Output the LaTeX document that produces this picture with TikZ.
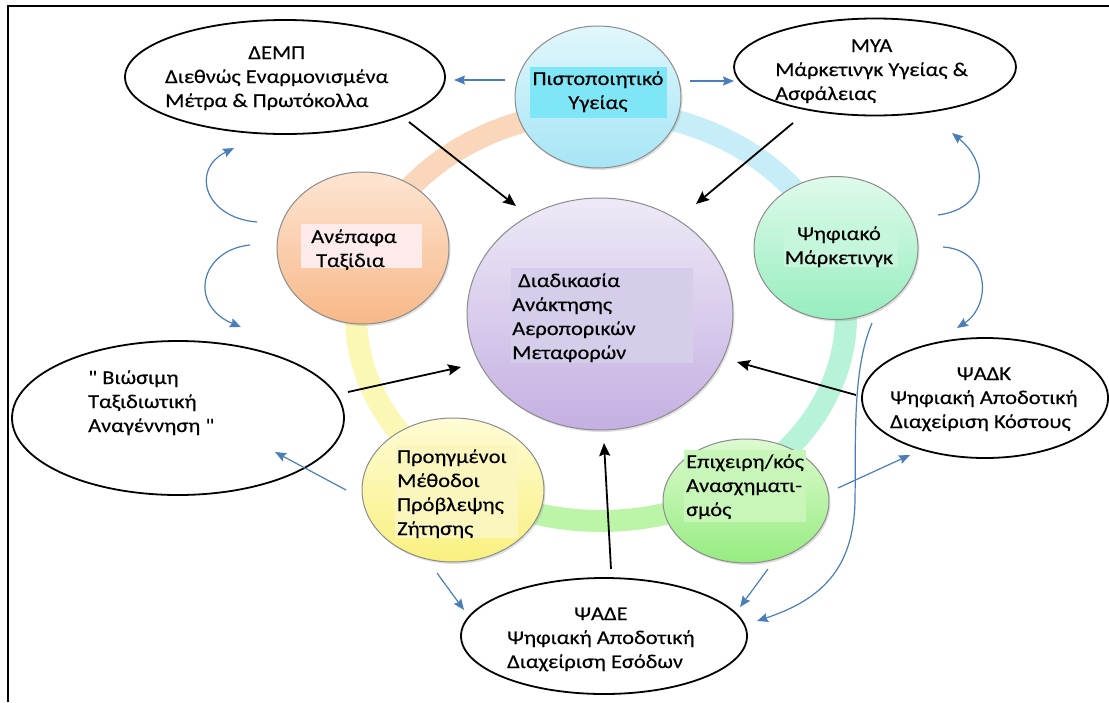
\documentclass[tikz,border=0pt]{standalone}
\usepackage{fontspec}
\setmainfont{Carlito}[FakeStretch=1.15,FakeBold=0.35]
\newfontfamily\plainq{Carlito}[FakeStretch=1.15,FakeBold=0.35]
\usetikzlibrary{shapes.geometric,arrows.meta,shadows}
\definecolor{ringpeach}{RGB}{250,214,186}
\definecolor{ringblue}{RGB}{198,237,248}
\definecolor{ringmint}{RGB}{182,243,217}
\definecolor{ringgreen}{RGB}{189,245,168}
\definecolor{ringyellow}{RGB}{251,247,181}
\definecolor{arrblue}{RGB}{74,126,187}
\definecolor{rimgray}{RGB}{140,140,140}
\definecolor{hlcyan}{RGB}{127,230,248}
\definecolor{hlpink}{RGB}{253,234,234}
\definecolor{hlmint}{RGB}{198,246,220}
\definecolor{hllav}{RGB}{213,205,234}
\definecolor{hlyel}{RGB}{251,245,190}
\definecolor{hlgreen}{RGB}{200,245,184}
\begin{document}
\begin{tikzpicture}[x=1pt,y=-1pt,
  every node/.style={font=\fontsize{19.5}{24}\selectfont},
  bubble/.style={ellipse,draw=rimgray,line width=1pt,inner sep=0pt,
    drop shadow={shadow xshift=1.5pt,shadow yshift=-2pt,opacity=0.25}},
  oval/.style={ellipse,draw=black,line width=1.8pt,inner sep=0pt},
  txt/.style={anchor=base west,inner sep=0pt},
  ctxt/.style={anchor=base,inner sep=0pt},
  ringseg/.style={line width=22pt},
  bluearr/.style={draw=arrblue,line width=1.2pt,-{Stealth[length=11pt,width=9pt,inset=1.5pt]}},
  blackarr/.style={draw=black,line width=1.8pt,-{Stealth[length=13pt,width=11pt,inset=2pt]}}
]
\useasboundingbox (0,0) rectangle (1109,702);
\fill[white] (0,0) rectangle (1109,702);
% frame
\draw[line width=2.2pt] (8,702) -- (8,6) -- (1109,6);

% ring
\draw[ringseg,ringpeach]  (601,316) ++(198:245 and 205) arc[start angle=198,end angle=271,x radius=245,y radius=205];
\draw[ringseg,ringblue]   (601,316) ++(270:245 and 205) arc[start angle=270,end angle=342,x radius=245,y radius=205];
\draw[ringseg,ringmint]   (601,316) ++(341:245 and 205) arc[start angle=341,end angle=421,x radius=245,y radius=205];
\draw[ringseg,ringgreen]  (601,316) ++(60:245 and 205) arc[start angle=60,end angle=121,x radius=245,y radius=205];
\draw[ringseg,ringyellow] (601,316) ++(120:245 and 205) arc[start angle=120,end angle=199,x radius=245,y radius=205];

% circles
\node[bubble,minimum width=166pt,minimum height=142pt,top color={rgb,255:red,224;green,247;blue,252},bottom color={rgb,255:red,166;green,229;blue,245}] (pist) at (598,97) {};
\node[bubble,minimum width=172pt,minimum height=152pt,top color={rgb,255:red,253;green,229;blue,210},bottom color={rgb,255:red,248;green,184;blue,136}] (anep) at (363,248) {};
\node[bubble,minimum width=164pt,minimum height=143pt,top color={rgb,255:red,223;green,250;blue,235},bottom color={rgb,255:red,150;green,238;blue,190}] (psif) at (836,248) {};
\node[bubble,minimum width=266pt,minimum height=232pt,top color={rgb,255:red,238;green,233;blue,247},bottom color={rgb,255:red,196;green,176;blue,226}] (core) at (600,314) {};
\node[bubble,minimum width=182pt,minimum height=144pt,top color={rgb,255:red,254;green,252;blue,214},bottom color={rgb,255:red,249;green,240;blue,126}] (proig) at (453,490) {};
\node[bubble,minimum width=166pt,minimum height=124pt,top color={rgb,255:red,221;green,250;blue,208},bottom color={rgb,255:red,150;green,236;blue,128}] (epix) at (746,501) {};

% highlight boxes
\fill[hlcyan]  (530,67) rectangle (667,118);
\fill[hlpink]  (301,224) rectangle (422,268);
\fill[hlmint]  (784,220) rectangle (898,267);
\fill[hllav]   (511,268) rectangle (693,363);
\fill[hlyel]   (395,445) rectangle (518,538);
\fill[hlgreen] (684,450) rectangle (806,522);

% circle texts
\node[ctxt] (pist-t) at (598,85) {\begin{tabular}[t]{@{}c@{}}Πιστοποιητικό\\Υγείας\end{tabular}};
\node[txt] (anep-t) at (311,243) {\begin{tabular}[t]{@{}l@{}}Ανέπαφα\\\hspace*{5pt}Ταξίδια\end{tabular}};
\node[ctxt] (psif-t) at (839,240) {\begin{tabular}[t]{@{}c@{}}Ψηφιακό\\Μάρκετινγκ\end{tabular}};
\node[txt] (core-t) at (512,287) {\begin{tabular}[t]{@{}l@{}}\hspace*{6pt}Διαδικασία\\Ανάκτησης\\Αεροπορικών\\Μεταφορών\end{tabular}};
\node[txt] (proig-t) at (397,463) {\begin{tabular}[t]{@{}l@{}}Προηγμένοι\\Μέθοδοι\\Πρόβλεψης\\Ζήτησης\end{tabular}};
\node[txt] (epix-t) at (686,468) {\begin{tabular}[t]{@{}l@{}}Επιχειρη/κός\\Ανασχηματι-\\σμός\end{tabular}};

% outer ellipses
\node[oval,minimum width=320pt,minimum height=114pt] (demp) at (285,77) {};
\node[oval,minimum width=282pt,minimum height=97pt] (mya) at (875,67) {};
\node[oval,minimum width=332pt,minimum height=154pt] (vios) at (178,418) {};
\node[oval,minimum width=246pt,minimum height=120pt] (psadk) at (985,398) {};
\node[oval,minimum width=286pt,minimum height=116pt] (psade) at (604,636) {};

\node[txt] (demp-t) at (165,59) {\begin{tabular}[t]{@{}l@{}}\multicolumn{1}{@{}c@{}}{ΔΕΜΠ}\\Διεθνώς Εναρμονισμένα\\Μέτρα \& Πρωτόκολλα\end{tabular}};
\node[txt] (mya-t) at (775,52) {\begin{tabular}[t]{@{}l@{}}\multicolumn{1}{@{}c@{}}{ΜΥΑ}\\Μάρκετινγκ Υγείας \&\\Ασφάλειας\end{tabular}};
\node[txt] (vios-t) at (88,384) {\begin{tabular}[t]{@{}l@{}}{\plainq"} Βιώσιμη\\Ταξιδιωτική\\Αναγέννηση {\plainq"}\end{tabular}};
\node[txt] (psadk-t) at (890,380) {\begin{tabular}[t]{@{}l@{}}\multicolumn{1}{@{}c@{}}{ΨΑΔΚ}\\Ψηφιακή Αποδοτική\\Διαχείριση Κόστους\end{tabular}};
\node[txt] (psade-t) at (507,620) {\begin{tabular}[t]{@{}l@{}}\multicolumn{1}{@{}c@{}}{ΨΑΔΕ}\\Ψηφιακή Αποδοτική\\Διαχείριση Εσόδων\end{tabular}};

% connector end points
\coordinate (b1s) at (505,80);   \coordinate (b1e) at (454,80);
\coordinate (b2s) at (690,81);   \coordinate (b2e) at (734,81);
\coordinate (b3s) at (257,222);  \coordinate (b3e) at (234,148);
\coordinate (b4s) at (250,245);  \coordinate (b4e) at (241,327);
\coordinate (b5s) at (938,215);  \coordinate (b5e) at (952,133);
\coordinate (b6s) at (943,247);  \coordinate (b6e) at (957,328);
\coordinate (b7s) at (346,490);  \coordinate (b7e) at (275,452);
\coordinate (b8s) at (437,573);  \coordinate (b8e) at (464,610);
\coordinate (b9s) at (768,569);  \coordinate (b9e) at (740,607);
\coordinate (b10s) at (838,488); \coordinate (b10e) at (910,455);
\coordinate (b11s) at (872,323); \coordinate (b11m) at (855,500); \coordinate (b11e) at (757,621);
\coordinate (k1s) at (409,122);  \coordinate (k1e) at (516,206);
\coordinate (k2s) at (793,123);  \coordinate (k2e) at (696,204);
\coordinate (k3s) at (348,392);  \coordinate (k3e) at (461,367);
\coordinate (k4s) at (856,395);  \coordinate (k4e) at (737,362);
\coordinate (k5s) at (611,569);  \coordinate (k5e) at (604,443);

% blue connectors
\draw[bluearr] (b1s) -- (b1e);
\draw[bluearr] (b2s) -- (b2e);
\draw[bluearr] (b3s) .. controls (205,218) and (190,170) .. (b3e);
\draw[bluearr] (b4s) .. controls (200,250) and (188,305) .. (b4e);
\draw[bluearr] (b5s) .. controls (990,208) and (988,162) .. (b5e);
\draw[bluearr] (b6s) .. controls (990,250) and (992,305) .. (b6e);
\draw[bluearr] (b7s) -- (b7e);
\draw[bluearr] (b8s) -- (b8e);
\draw[bluearr] (b9s) -- (b9e);
\draw[bluearr] (b10s) -- (b10e);
\draw[bluearr] (b11s) .. controls (852,370) and (856,440) .. (b11m) .. controls (854,570) and (820,600) .. (b11e);

% black connectors
\draw[blackarr] (k1s) -- (k1e);
\draw[blackarr] (k2s) -- (k2e);
\draw[blackarr] (k3s) -- (k3e);
\draw[blackarr] (k4s) -- (k4e);
\draw[blackarr] (k5s) -- (k5e);
\end{tikzpicture}
\end{document}
